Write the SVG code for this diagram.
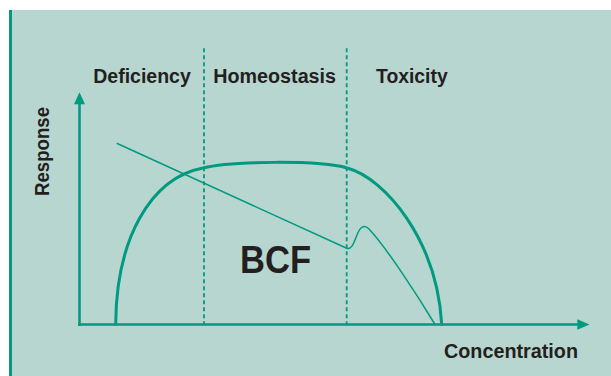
<svg xmlns="http://www.w3.org/2000/svg" width="611" height="376" viewBox="0 0 611 376">
  <defs>
    <style>
      .bg { fill: #b7d6cf; }
      .axis { stroke: #009a80; stroke-width: 2.6; fill: none; }
      .div { stroke: #009a80; stroke-width: 1.8; stroke-dasharray: 4 3; fill: none; }
      .bell { stroke: #009a80; stroke-width: 3; fill: none; stroke-linecap: round; }
      .bcf { stroke: #009a80; stroke-width: 1.5; fill: none; }
      .lbl { font-family: "Liberation Sans", Arial, sans-serif; font-weight: bold; font-size: 20px; fill: #231f20; }
      .big { font-family: "Liberation Sans", Arial, sans-serif; font-weight: bold; font-size: 38.5px; fill: #231f20; }
      .head { fill: #009a80; }
    </style>
  </defs>
  <rect x="0" y="0" width="611" height="376" fill="#ffffff"/>
  <rect class="bg" x="9" y="10" width="602" height="366"/>
  <rect x="9" y="10" width="3" height="366" fill="#009a80"/>

  <g id="connectors">
    <line class="axis" x1="79.5" y1="326" x2="79.5" y2="102"/>
    <polygon class="head" points="79.5,92.3 85,104.3 74,104.3"/>
    <line class="axis" x1="78.2" y1="324.5" x2="579" y2="324.5"/>
    <polygon class="head" points="589.5,324.5 577.3,319.3 577.3,329.7"/>
    <line class="div" x1="204" y1="48.3" x2="204" y2="324"/>
    <line class="div" x1="346.7" y1="48.3" x2="346.7" y2="324"/>
  </g>

  <g id="bell-curve">
    <path class="bell" d="M115.7,324.5 C116,240 150,178 203,168 C230,161 320,160 347,168 C385,178 437,240 441.7,324.5"/>
  </g>

  <g id="bcf-curve">
    <path class="bcf" d="M116.7,143.3 L346.7,248.3 C352,250 354,242 357,235 C360,227 364,224 369,229 C386,247 418,296 435,324.5"/>
  </g>

  <g id="label-deficiency"><text class="lbl" x="93.3" y="83.3" textLength="97.5" lengthAdjust="spacingAndGlyphs">Deficiency</text></g>
  <g id="label-homeostasis"><text class="lbl" x="213.3" y="83.3" textLength="122.7" lengthAdjust="spacingAndGlyphs">Homeostasis</text></g>
  <g id="label-toxicity"><text class="lbl" x="376" y="83.3" textLength="71.7" lengthAdjust="spacingAndGlyphs">Toxicity</text></g>
  <g id="label-concentration"><text class="lbl" x="444" y="357.7" textLength="134" lengthAdjust="spacingAndGlyphs">Concentration</text></g>
  <g id="label-response"><text class="lbl" transform="translate(48.5,196) rotate(-90)" x="0" y="0" textLength="89" lengthAdjust="spacingAndGlyphs">Response</text></g>
  <g id="label-bcf"><text class="big" x="240" y="272.7" textLength="71" lengthAdjust="spacingAndGlyphs">BCF</text></g>
</svg>
